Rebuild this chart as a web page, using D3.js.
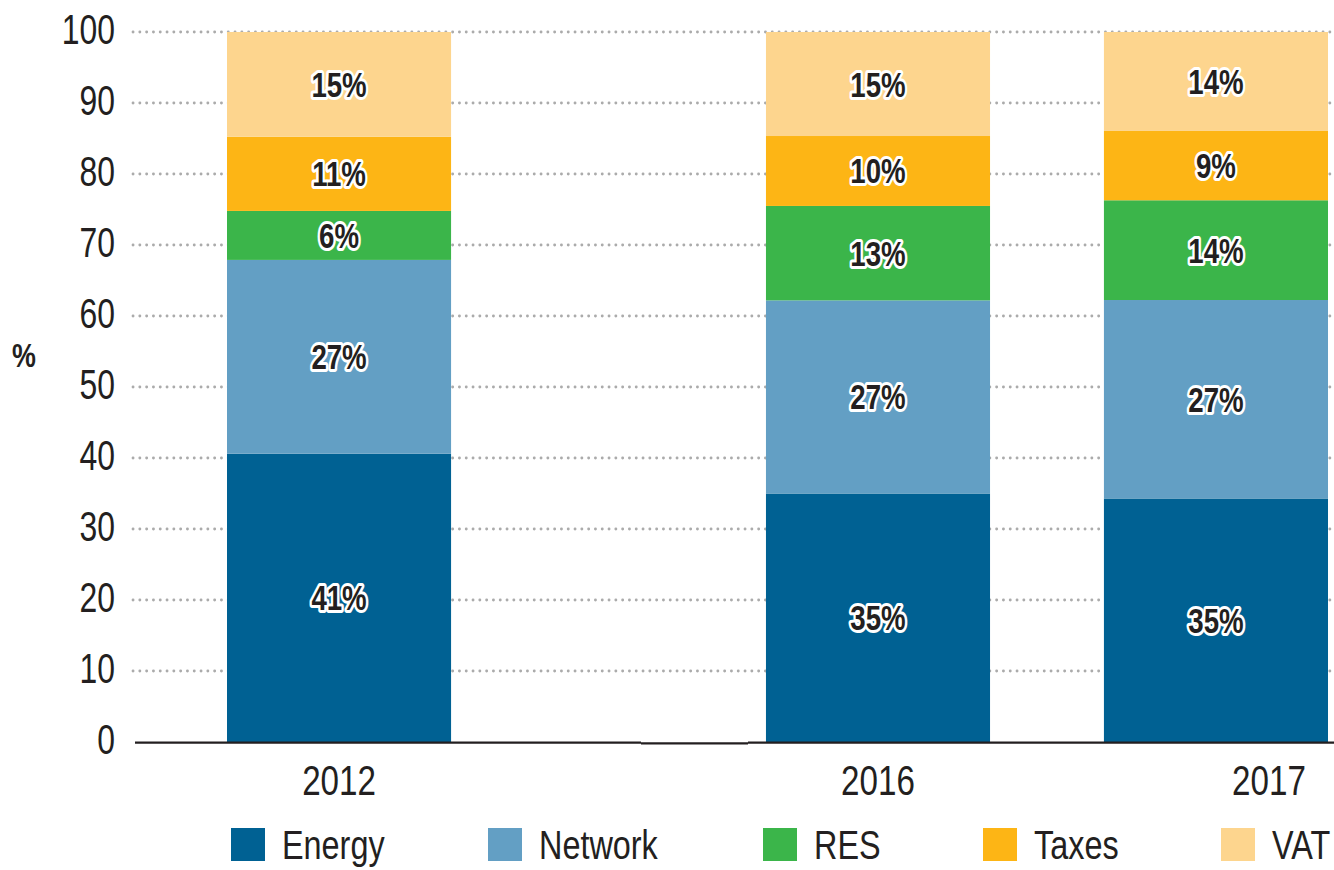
<!DOCTYPE html>
<html>
<head>
<meta charset="utf-8">
<script src="https://cdn.jsdelivr.net/npm/d3@7"></script>
<style>
  html, body { margin: 0; padding: 0; background: #fff; }
  svg { display: block; }
  text { font-family: "Liberation Sans", Arial, sans-serif; }
</style>
</head>
<body>
<svg id="chart" width="1334" height="870"></svg>
<script>
// ---- data ----
const categories = ["2012", "2016", "2017"];
const seriesNames = ["Energy", "Network", "RES", "Taxes", "VAT"];
const energy  = [40.6, 35.0, 34.3];
const network = [27.3, 27.2, 27.95];
const res     = [6.9, 13.3, 14.05];
const taxes   = [10.45, 9.85, 9.76];
const vat     = [14.75, 14.65, 13.94];
const energyLabels  = ["41%", "35%", "35%"];
const networkLabels = ["27%", "27%", "27%"];
const resLabels     = ["6%", "13%", "14%"];
const taxesLabels   = ["11%", "10%", "9%"];
const vatLabels     = ["15%", "15%", "14%"];
const yTicks = [0, 10, 20, 30, 40, 50, 60, 70, 80, 90, 100];
const colors = ["#006193", "#639fc4", "#3bb54a", "#fdb515", "#fdd58e"];

const seriesValues = [energy, network, res, taxes, vat];
const seriesLabels = [energyLabels, networkLabels, resLabels, taxesLabels, vatLabels];

// table for d3.stack
const table = categories.map((c, i) => {
  const row = { cat: c };
  seriesNames.forEach((s, k) => { row[s] = seriesValues[k][i]; });
  return row;
});
const stacked = d3.stack().keys(seriesNames)(table);

// ---- layout ----
const svg = d3.select("#chart");
const y = d3.scaleLinear().domain([0, 100]).range([742, 32]);
const xBand = d3.scaleBand().domain(categories).range([227, 1127]).paddingInner(0.337).paddingOuter(0);
const breakShift = 201; // axis break after the first category
const xPos = c => xBand(c) + (categories.indexOf(c) > 0 ? breakShift : 0);
const color = d3.scaleOrdinal().domain(seriesNames).range(colors);
const ink = "#231f20";
const narrow = 0.79; // condensed look
const place = (x, yy) => `translate(${x},${yy}) scale(${narrow},1)`;

// gridlines
svg.append("g").selectAll("line")
  .data(yTicks.filter(t => t > 0))
  .join("line")
  .attr("x1", 133).attr("x2", 1334)
  .attr("y1", d => y(d)).attr("y2", d => y(d))
  .attr("stroke", "#ababab")
  .attr("stroke-width", 2.8)
  .attr("stroke-linecap", "round")
  .attr("stroke-dasharray", "0.1,6.7");

// y axis tick labels
const yAxis = d3.axisLeft(y).tickValues(yTicks).tickSize(0).tickPadding(0);
const gy = svg.append("g").attr("transform", "translate(115,0)").call(yAxis);
gy.select(".domain").remove();
gy.selectAll(".tick text")
  .attr("x", null).attr("dy", null)
  .attr("transform", `translate(0,11.5) scale(0.76,1)`)
  .attr("font-family", "'Liberation Sans', Arial, sans-serif")
  .attr("font-size", 42)
  .attr("fill", ink);

// y title
svg.append("text")
  .attr("transform", place(24, 367))
  .attr("text-anchor", "middle")
  .attr("font-size", 34)
  .attr("font-weight", "bold")
  .attr("fill", ink)
  .text("%");

// bars
const layers = svg.append("g").selectAll("g")
  .data(stacked)
  .join("g")
  .attr("fill", d => color(d.key));
layers.selectAll("rect")
  .data(d => d)
  .join("rect")
  .attr("x", d => xPos(d.data.cat))
  .attr("width", xBand.bandwidth())
  .attr("y", d => y(d[1]))
  .attr("height", d => y(d[0]) - y(d[1]));

// value labels
stacked.forEach((layer, k) => {
  svg.append("g").selectAll("text")
    .data(layer)
    .join("text")
    .attr("transform", d => place(xPos(d.data.cat) + xBand.bandwidth() / 2, (y(d[0]) + y(d[1])) / 2 + 12.5))
    .attr("text-anchor", "middle")
    .attr("font-size", 35)
    .attr("font-weight", "bold")
    .attr("fill", ink)
    .attr("stroke", "#fff")
    .attr("stroke-width", 6)
    .attr("stroke-linejoin", "round")
    .attr("paint-order", "stroke")
    .text((d, i) => seriesLabels[k][i]);
});

// x axis baseline (with break)
svg.append("line")
  .attr("x1", 135).attr("x2", 641)
  .attr("y1", 742.7).attr("y2", 742.7)
  .attr("stroke", ink).attr("stroke-width", 2.2);
svg.append("line")
  .attr("x1", 641).attr("x2", 748)
  .attr("y1", 743.4).attr("y2", 743.4)
  .attr("stroke", ink).attr("stroke-width", 2.2);
svg.append("line")
  .attr("x1", 748).attr("x2", 1334)
  .attr("y1", 742.7).attr("y2", 742.7)
  .attr("stroke", ink).attr("stroke-width", 2.2);

// x tick labels (the last one sits in the wider, cropped slot at the right edge)
const lastLabelShift = 53;
svg.append("g").selectAll("text")
  .data(categories)
  .join("text")
  .attr("transform", (d, i) => place(xPos(d) + xBand.bandwidth() / 2 + (i === categories.length - 1 ? lastLabelShift : 0), 795))
  .attr("text-anchor", "middle")
  .attr("font-size", 42)
  .attr("fill", ink)
  .text(d => d);

// legend
const legendX = [231, 488, 763, 983, 1221];
const lg = svg.append("g").selectAll("g")
  .data(seriesNames)
  .join("g")
  .attr("transform", (d, i) => `translate(${legendX[i]},828)`);
lg.append("rect")
  .attr("width", 34).attr("height", 33)
  .attr("fill", d => color(d));
lg.append("text")
  .attr("transform", place(51, 31))
  .attr("font-size", 41)
  .attr("fill", ink)
  .text(d => d);
</script>
</body>
</html>
